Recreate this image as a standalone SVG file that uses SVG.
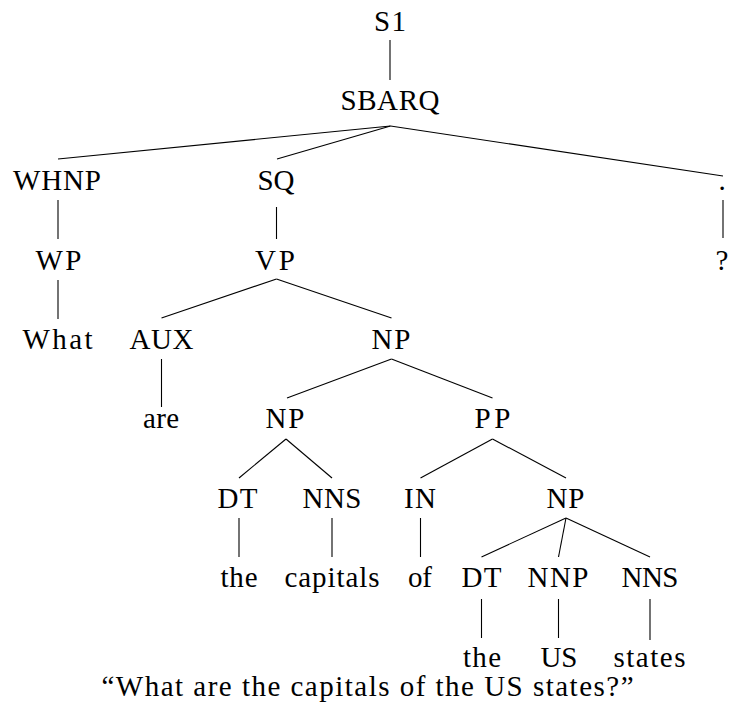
<svg xmlns="http://www.w3.org/2000/svg" width="729" height="711" viewBox="0 0 729 711">
  <style>
    text { font-family: "Liberation Serif", "Times New Roman", serif; font-size: 29px; fill: #000; text-anchor: middle; }
    .edges line { stroke: #000; stroke-width: 1.1; }
  </style>
  <rect width="729" height="711" fill="#fff"/>

  <!-- tree edges -->
  <g id="connectors" class="edges">
    <line x1="390" y1="40" x2="390" y2="80"/>
    <line x1="390.5" y1="126" x2="58" y2="159"/>
    <line x1="390.5" y1="126" x2="277" y2="159"/>
    <line x1="390.5" y1="126" x2="723" y2="176"/>
    <line x1="58" y1="200" x2="58" y2="239"/>
    <line x1="276.5" y1="207" x2="276.5" y2="239"/>
    <line x1="723" y1="200" x2="723" y2="238"/>
    <line x1="58" y1="280" x2="58" y2="319"/>
    <line x1="276.5" y1="279" x2="161.5" y2="318"/>
    <line x1="276.5" y1="279" x2="391.5" y2="318"/>
    <line x1="161.5" y1="359" x2="161.5" y2="407"/>
    <line x1="391.5" y1="359" x2="287" y2="398"/>
    <line x1="391.5" y1="359" x2="492.5" y2="398"/>
    <line x1="286" y1="439" x2="239" y2="478"/>
    <line x1="286" y1="439" x2="332" y2="478"/>
    <line x1="492.5" y1="439" x2="420.5" y2="478"/>
    <line x1="492.5" y1="439" x2="566" y2="478"/>
    <line x1="239" y1="518" x2="239" y2="557"/>
    <line x1="332" y1="518" x2="332" y2="557"/>
    <line x1="420.5" y1="518" x2="420.5" y2="557"/>
    <line x1="566" y1="518" x2="481.5" y2="557"/>
    <line x1="566" y1="518" x2="558.5" y2="557"/>
    <line x1="566" y1="518" x2="650" y2="557"/>
    <line x1="481.5" y1="599" x2="481.5" y2="638"/>
    <line x1="558.5" y1="599" x2="558.5" y2="638"/>
    <line x1="650" y1="599" x2="650" y2="640"/>
  </g>

  <!-- phrase and word nodes -->
  <g id="n-s1"><text x="390" y="31" textLength="32">S1</text></g>
  <g id="n-sbarq"><text x="390" y="110" textLength="99">SBARQ</text></g>
  <g id="n-whnp"><text x="57" y="190" textLength="88">WHNP</text></g>
  <g id="n-sq"><text x="276" y="190" textLength="37">SQ</text></g>
  <g id="n-period"><text x="722" y="190">.</text></g>
  <g id="n-wp"><text x="58.5" y="270" textLength="46">WP</text></g>
  <g id="n-vp"><text x="275" y="270" textLength="40">VP</text></g>
  <g id="n-question"><text x="722" y="270">?</text></g>
  <g id="n-what"><text x="57.5" y="349" textLength="70">What</text></g>
  <g id="n-aux"><text x="161.5" y="349" textLength="64">AUX</text></g>
  <g id="n-np1"><text x="391" y="349" textLength="39">NP</text></g>
  <g id="n-are"><text x="161" y="428" textLength="36">are</text></g>
  <g id="n-np2"><text x="285" y="428" textLength="39">NP</text></g>
  <g id="n-pp"><text x="492.5" y="428" textLength="36">PP</text></g>
  <g id="n-dt1"><text x="237.5" y="508" textLength="40">DT</text></g>
  <g id="n-nns1"><text x="332" y="508" textLength="59">NNS</text></g>
  <g id="n-in"><text x="420" y="508" textLength="32">IN</text></g>
  <g id="n-np3"><text x="565.5" y="508" textLength="38">NP</text></g>
  <g id="n-the1"><text x="239" y="587" textLength="37">the</text></g>
  <g id="n-capitals"><text x="332" y="587" textLength="95">capitals</text></g>
  <g id="n-of"><text x="420" y="587" textLength="24">of</text></g>
  <g id="n-dt2"><text x="481.5" y="587" textLength="40">DT</text></g>
  <g id="n-nnp"><text x="558" y="587" textLength="61">NNP</text></g>
  <g id="n-nns2"><text x="650" y="587" textLength="57">NNS</text></g>
  <g id="n-the2"><text x="482" y="667" textLength="38">the</text></g>
  <g id="n-us"><text x="559" y="667" textLength="37">US</text></g>
  <g id="n-states"><text x="649.5" y="667" textLength="72">states</text></g>

  <!-- caption -->
  <g id="caption"><text x="367.5" y="696" textLength="532">“What are the capitals of the US states?”</text></g>
</svg>
